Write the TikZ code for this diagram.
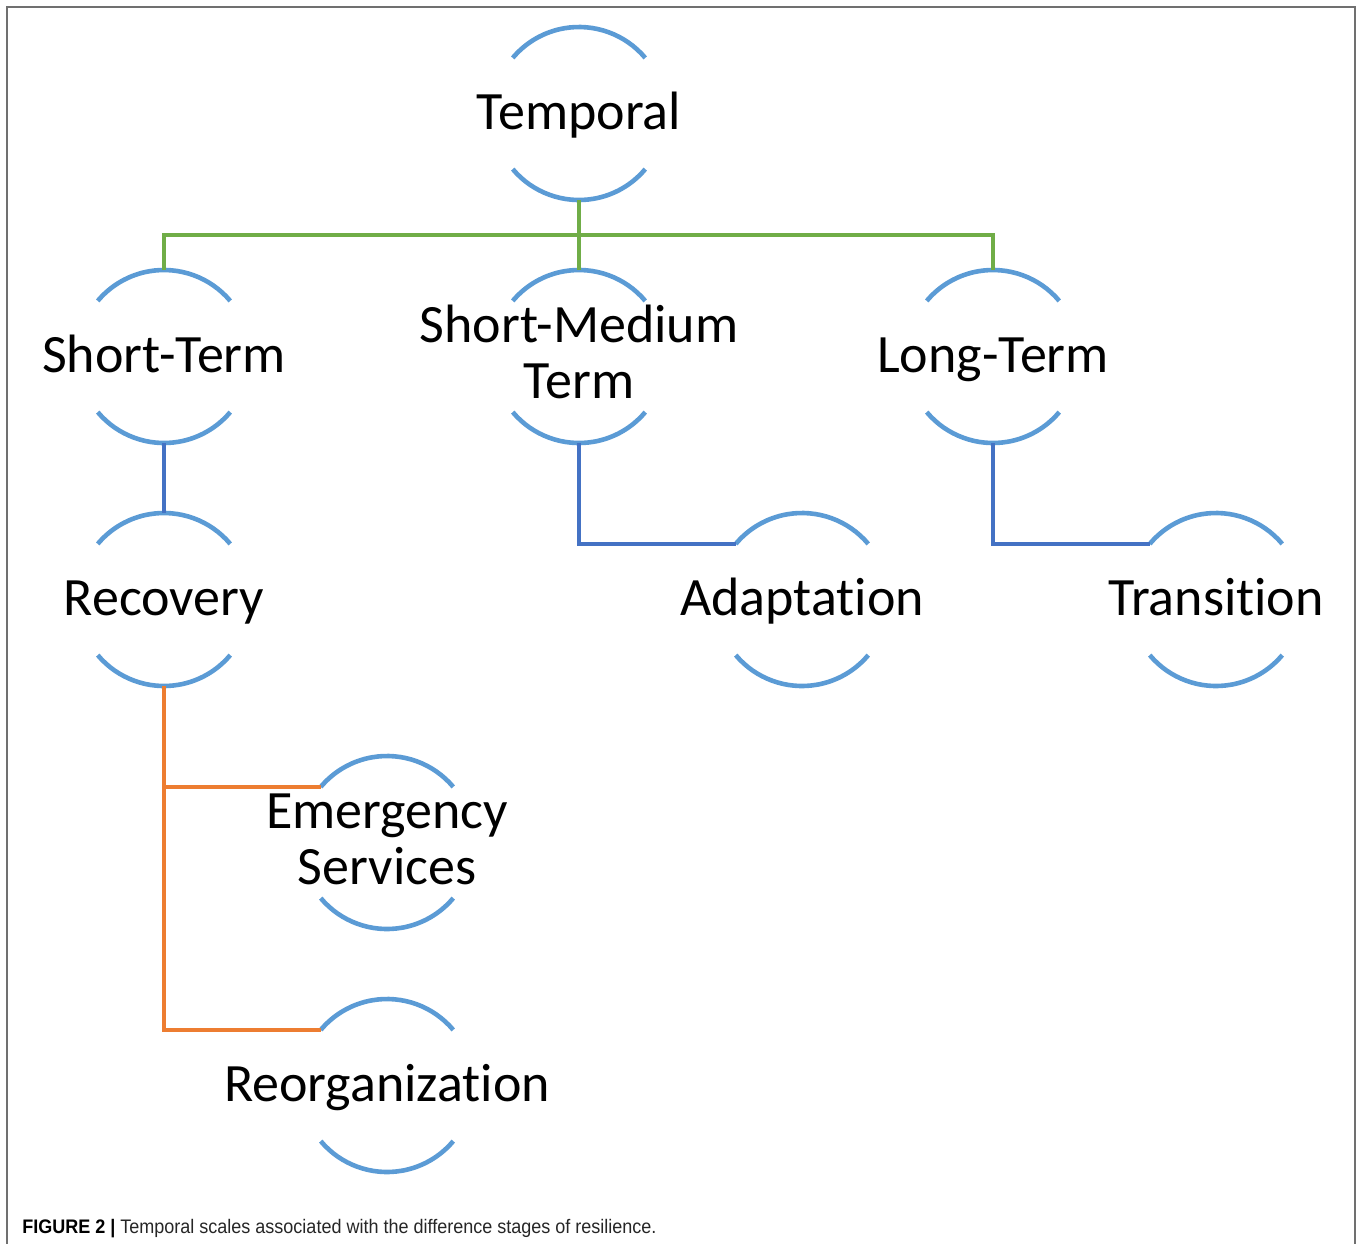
\documentclass[tikz,border=0pt]{standalone}
\usepackage{fontspec}
\setmainfont[Ligatures=NoCommon]{Carlito}
\newfontfamily\capfont{Liberation Sans}
\definecolor{arcblue}{HTML}{5B9BD5}
\definecolor{linkblue}{HTML}{4472C4}
\definecolor{linkgreen}{HTML}{70AD47}
\definecolor{linkorange}{HTML}{ED7D31}
\definecolor{framegray}{HTML}{707070}
\newcommand{\onel}[1]{\makebox[0pt]{\raisebox{-7.75pt}[0pt][0pt]{\makebox[0pt]{#1}}}}
\newcommand{\twol}[2]{\makebox[0pt]{\raisebox{7.25pt}[0pt][0pt]{\makebox[0pt]{#1}}\raisebox{-21pt}[0pt][0pt]{\makebox[0pt]{#2}}}}
\newcommand{\circnode}[4]{%
  \node[hub] (#1) at (#2,#3) {#4};
  \draw[arcline] (#1.40) arc[start angle=40, end angle=140, radius=43.25pt];
  \draw[arcline] (#1.220) arc[start angle=220, end angle=320, radius=43.25pt];
}
\begin{document}
\begin{tikzpicture}[x=0.5pt,y=-0.5pt,
  hub/.style={circle, draw=none, minimum size=86.5pt, inner sep=0pt, outer sep=0pt,
    font=\fontsize{27pt}{30pt}\selectfont},
  arcline/.style={draw=arcblue, line width=2.3pt},
  gline/.style={draw=linkgreen, line width=2.1pt},
  bline/.style={draw=linkblue, line width=2.1pt},
  oline/.style={draw=linkorange, line width=2.1pt},
  framestyle/.style={draw=framegray, line width=1pt}]
\useasboundingbox (0,0) rectangle (1357,1244);
\draw[framestyle] (7,1244) -- (7,7) -- (1355,7) -- (1355,1244);
\coordinate (bus) at (579,235);
\circnode{temporal}{579}{113.5}{\onel{Temporal}}
\circnode{st}{164}{356.5}{\onel{Short-Term}}
\circnode{smt}{579}{356.5}{\twol{Short-Medium}{Term}}
\circnode{lt}{993}{356.5}{\onel{Long-Term}}
\circnode{rec}{164}{599.5}{\onel{Recovery}}
\circnode{ad}{802}{599.5}{\onel{Adaptation}}
\circnode{tr}{1216}{599.5}{\onel{Transition}}
\circnode{es}{387}{842.5}{\twol{Emergency}{Services}}
\circnode{reo}{387}{1085.5}{\onel{Reorganization}}
\draw[gline] (temporal.south) -- (bus);
\draw[gline] (st.north) |- (bus) -| (lt.north);
\draw[gline] (bus) -- (smt.north);
\draw[bline] (st.south) -- (rec.north);
\draw[bline] (smt.south) |- (ad.140);
\draw[bline] (lt.south) |- (tr.140);
\draw[oline] (rec.south) |- (es.140);
\draw[oline] (rec.south) |- (reo.140);
\node[anchor=base west, inner sep=0pt] (caption) at (22,1233)
  {\resizebox{317pt}{\height}{\capfont\fontsize{9.8pt}{11pt}\selectfont\textbf{FIGURE 2 |} \color{black!85}Temporal scales associated with the difference stages of resilience.}};
\end{tikzpicture}
\end{document}
